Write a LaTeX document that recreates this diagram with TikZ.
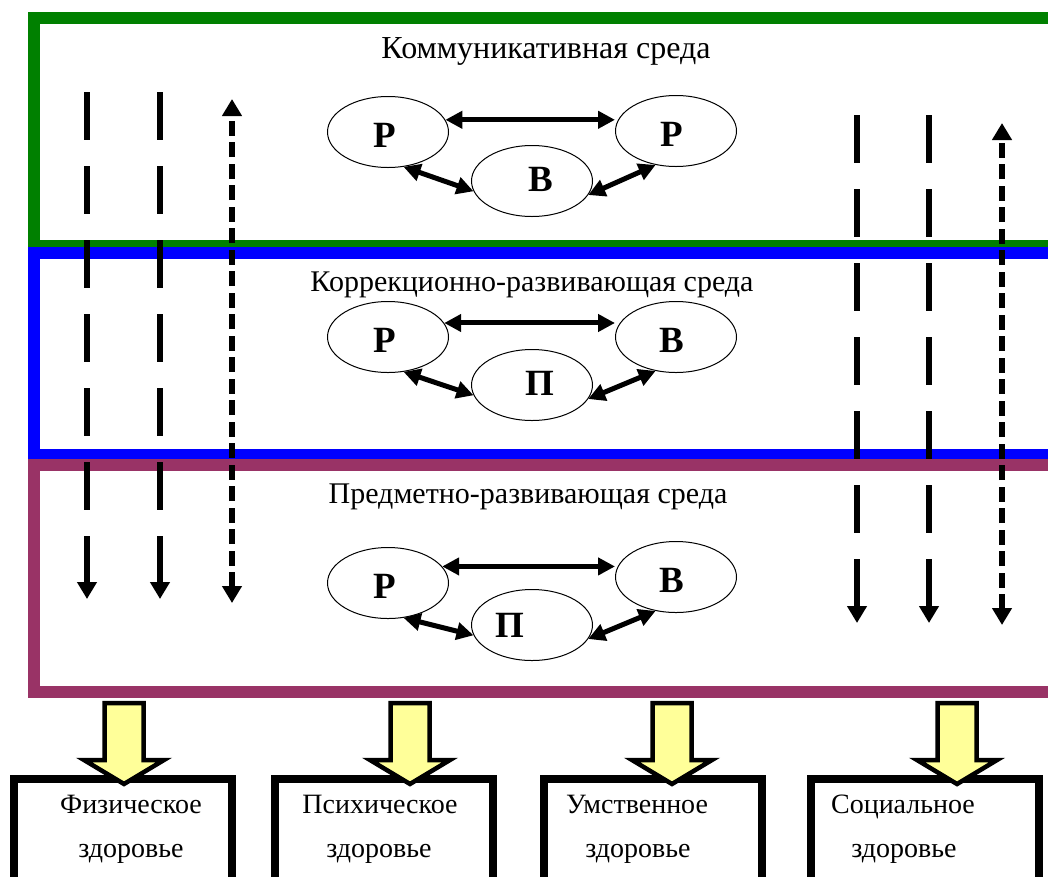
\documentclass[tikz,border=0pt]{standalone}
\usepackage{fontspec}
\setmainfont{Liberation Serif}
\usetikzlibrary{shapes.geometric,arrows.meta}

\definecolor{frgreen}{RGB}{0,128,0}
\definecolor{frblue}{RGB}{0,0,255}
\definecolor{frplum}{RGB}{153,51,102}
\definecolor{blockyellow}{RGB}{255,255,153}

\begin{document}
\begin{tikzpicture}[x=1pt,y=-1pt,
 frame/.style={line width=12pt},
 ell/.style={draw, ellipse, line width=1pt, fill=white, minimum width=121pt, minimum height=71pt, inner sep=0pt},
 letter/.style={font=\fontsize{37}{40}\selectfont\bfseries, inner sep=0pt},
 title/.style={font=\fontsize{30}{34}\selectfont, inner sep=0pt},
 boxtext/.style={font=\fontsize{28}{32}\selectfont, inner sep=0pt, anchor=base},
 rel/.style={line width=5pt, {Triangle[length=17pt,width=17pt]}-{Triangle[length=17pt,width=17pt]}},
 longdash/.style={line width=6pt, dash pattern=on 48pt off 26pt, -{Triangle[length=17pt,width=19pt]}},
 sqdot/.style={line width=6pt, dash pattern=on 15pt off 6.5pt, {Triangle[length=17pt,width=19pt]}-{Triangle[length=17pt,width=19pt]}},
 hbox/.style={draw, line width=8pt, minimum width=218pt, minimum height=140pt, inner sep=0pt},
 block/.style={draw, line width=4.5pt, fill=blockyellow, line join=miter}
]
\useasboundingbox (0,0) rectangle (1048,876);
\clip (0,0) rectangle (1048,876);
\fill[white] (0,0) rectangle (1048,876);

% frames
\draw[frame, frgreen] (34,18) rectangle (1080,246);
\draw[frame, frblue] (34,253) rectangle (1080,455);
\draw[frame, frplum] (34,465) rectangle (1080,692);

% titles
\node[title, font=\fontsize{32}{36}\selectfont] (t1) at (546,51) {Коммуникативная среда};
\node[title] (t2) at (532,285) {Коррекционно-развивающая среда};
\node[title] (t3) at (528,497) {Предметно-развивающая среда};

% group 1
\node[ell] (a1) at (388,132) {};
\node[ell] (a2) at (676,131) {};
\node[ell] (a3) at (532,181) {};
\node[letter] at ([xshift=-3pt,yshift=-3pt]a1.center) {Р};
\node[letter] at ([xshift=-4pt,yshift=-3pt]a2.center) {Р};
\node[letter] at ([xshift=9pt,yshift=2pt]a3.center) {В};
\draw[rel] (a1.12) -- (a1.12 -| a2.west);
\draw[rel] (a1.-66) -- (a3.-170);
\draw[rel] (a3.-14) -- (a2.-121);

% group 2
\node[ell] (b1) at (388,337) {};
\node[ell] (b2) at (676,337) {};
\node[ell] (b3) at (532,385) {};
\node[letter] at ([xshift=-3pt,yshift=-3pt]b1.center) {Р};
\node[letter] at ([xshift=-4pt,yshift=-3pt]b2.center) {В};
\node[letter] at ([xshift=8pt,yshift=2pt]b3.center) {П};
\draw[rel] (b1.14) -- (b1.14 -| b2.west);
\draw[rel] (b1.-66) -- (b3.-170);
\draw[rel] (b3.-14) -- (b2.-121);

% group 3
\node[ell] (c1) at (388,583) {};
\node[ell] (c2) at (676,577) {};
\node[ell] (c3) at (532,625) {};
\node[letter] at ([xshift=-3pt,yshift=-3pt]c1.center) {Р};
\node[letter] at ([xshift=-4pt,yshift=-3pt]c2.center) {В};
\node[letter] at ([xshift=-22pt,yshift=0pt]c3.center) {П};
\draw[rel] (c1.17) -- (c1.17 -| c2.west);
\draw[rel] (c1.-66) -- (c3.-170);
\draw[rel] (c3.-14) -- (c2.-121);

% vertical arrows left
\coordinate (l1s) at (87,92);   \coordinate (l1e) at (87,599);
\coordinate (l2s) at (160,92);  \coordinate (l2e) at (160,599);
\coordinate (l3s) at (232,99);  \coordinate (l3e) at (232,603);
\draw[longdash] (l1s) -- (l1e);
\draw[longdash] (l2s) -- (l2e);
\draw[sqdot] (l3e) -- (l3s);
% vertical arrows right
\coordinate (r1s) at (857,115); \coordinate (r1e) at (857,623);
\coordinate (r2s) at (929,115); \coordinate (r2e) at (929,623);
\coordinate (r3s) at (1002,123); \coordinate (r3e) at (1002,625);
\draw[longdash] (r1s) -- (r1e);
\draw[longdash] (r2s) -- (r2e);
\draw[sqdot] (r3e) -- (r3s);

% health boxes
\node[hbox] (h1) at (123,849) {};
\node[hbox] (h2) at (384,849) {};
\node[hbox] (h3) at (653,849) {};
\node[hbox, minimum width=228pt] (h4) at (925,849) {};
\node[boxtext] (h1a) at (131,813) {Физическое};
\node[boxtext] (h1b) at (131,857) {здоровье};
\node[boxtext] (h2a) at (380,813) {Психическое};
\node[boxtext] (h2b) at (379,857) {здоровье};
\node[boxtext] (h3a) at (637,813) {Умственное};
\node[boxtext] (h3b) at (638,857) {здоровье};
\node[boxtext] (h4a) at (903,813) {Социальное};
\node[boxtext] (h4b) at (904,857) {здоровье};

% block arrows
\foreach \c in {124,410,672,957} {
  \draw[block] (\c-19.5,703) -- (\c+19.5,703) -- (\c+19.5,760) -- (\c+40,760)
    -- (\c,784) -- (\c-40,760) -- (\c-19.5,760) -- cycle;
}
\end{tikzpicture}
\end{document}
